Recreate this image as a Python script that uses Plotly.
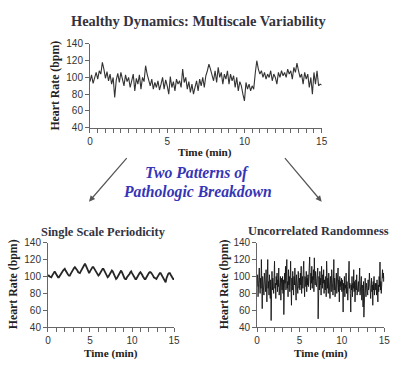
import plotly.graph_objects as go

W, H = 400, 380

# ---------------- data ----------------
healthy_time_step = 0.1
healthy_hr = [
    95, 103, 93, 101, 106, 98, 108, 104, 118, 110,
    99, 107, 96, 104, 92, 100, 76, 97, 105, 94,
    106, 98, 90, 103, 95, 100, 88, 96, 104, 84,
    99, 92, 103, 86, 100, 95, 114, 104, 96, 90,
    98, 86, 94, 88, 96, 85, 92, 100, 86, 97,
    90, 80, 101, 88, 95, 84, 98, 92, 96, 88,
    110, 94, 100, 86, 95, 82, 92, 80, 88, 96,
    84, 98, 90, 100, 88, 102, 108, 116, 110, 103,
    96, 108, 94, 112, 100, 106, 92, 104, 98, 108,
    92, 104, 96, 102, 88, 100, 84, 95, 90, 80,
    72, 94, 86, 92, 84, 90, 86, 105, 120, 110,
    104, 108, 100, 106, 98, 104, 100, 108, 96, 104,
    100, 92, 106, 100, 108, 102, 106, 100, 110, 104,
    108, 98, 112, 106, 117, 108, 100, 104, 92, 106,
    98, 104, 88, 100, 80, 106, 92, 108, 90, 92,
    91,
]

periodic_time_step = 0.1
periodic_hr = [
    100, 101, 100, 99, 99, 101, 103, 104, 106, 104,
    102, 100, 99, 99, 101, 103, 104, 106, 107, 108,
    109, 107, 105, 103, 102, 101, 101, 103, 105, 107,
    109, 110, 111, 110, 108, 107, 105, 104, 104, 106,
    108, 110, 112, 114, 115, 113, 111, 108, 106, 104,
    106, 108, 110, 111, 111, 109, 107, 105, 103, 102,
    101, 102, 104, 106, 108, 109, 109, 107, 105, 103,
    101, 99, 100, 102, 104, 106, 107, 106, 104, 101,
    99, 97, 98, 100, 102, 104, 106, 107, 105, 102,
    100, 98, 97, 97, 99, 100, 102, 103, 105, 106,
    104, 102, 100, 98, 97, 97, 99, 101, 103, 104,
    105, 104, 102, 100, 98, 97, 97, 99, 101, 103,
    104, 105, 105, 104, 103, 101, 99, 98, 97, 97,
    99, 101, 103, 104, 104, 102, 100, 98, 96, 95,
    93, 98, 101, 103, 104, 104, 102, 100, 98, 97,
    97,
]

random_time_step = 0.05
random_hr = [
    88, 102, 76, 95, 84, 110, 92, 80, 98, 86, 120, 90, 62, 100, 84, 96, 78, 104, 88, 94,
    82, 108, 92, 70, 98, 120, 86, 94, 78, 102, 90, 74, 96, 48, 92, 106, 84, 98, 88, 80,
    96, 118, 86, 92, 74, 100, 90, 104, 82, 96, 88, 110, 78, 94, 86, 100, 72, 98, 92, 84,
    100, 80, 96, 55, 88, 104, 92, 112, 84, 98, 120, 86, 94, 76, 108, 90, 100, 82, 96, 118,
    88, 66, 98, 84, 106, 92, 78, 100, 90, 110, 82, 94, 72, 102, 88, 96, 80, 106, 92, 86,
    98, 84, 104, 90, 112, 80, 96, 100, 86, 108, 118, 92, 76, 100, 94, 88, 106, 82, 98, 90,
    102, 88, 110, 94, 123, 96, 84, 104, 92, 112, 86, 100, 96, 108, 82, 122, 98, 90, 106, 94,
    88, 104, 96, 110, 50, 92, 100, 84, 106, 90, 98, 78, 112, 94, 86, 102, 92, 108, 80, 96,
    90, 84, 100, 76, 118, 92, 86, 98, 80, 104, 88, 94, 74, 100, 90, 82, 108, 86, 96, 78,
    92, 120, 84, 98, 76, 94, 88, 104, 80, 92, 86, 110, 82, 96, 70, 100, 88, 94, 84, 98,
    82, 96, 88, 58, 92, 84, 100, 76, 90, 86, 104, 80, 94, 88, 72, 98, 84, 118, 86, 92,
    80, 58, 90, 84, 100, 76, 92, 86, 108, 82, 94, 70, 88, 96, 84, 102, 78, 90, 86, 94,
    82, 96, 110, 78, 88, 84, 100, 72, 90, 86, 64, 94, 52, 88, 80, 98, 84, 76, 92, 86,
    90, 78, 96, 84, 88, 104, 80, 92, 74, 86, 98, 82, 90, 66, 94, 84, 100, 78, 88, 92,
    84, 92, 78, 96, 86, 70, 90, 82, 100, 88, 117, 84, 94, 80, 88, 92, 108, 98, 104, 94,
    100,
]

x_ticks = [0, 5, 10, 15]
y_ticks = [40, 60, 80, 100, 120, 140]

main_title = "Healthy Dynamics: Multiscale Variability"
left_title = "Single Scale Periodicity"
right_title = "Uncorrelated Randomness"
middle_text = ["Two Patterns of", "Pathologic Breakdown"]
x_label = "Time (min)"
y_label = "Heart Rate (bpm)"

# ---------------- figure ----------------
def times(step, n):
    return [round(i * step, 4) for i in range(n)]

fig = go.Figure()
fig.add_trace(go.Scatter(x=times(healthy_time_step, len(healthy_hr)), y=healthy_hr,
                         mode="lines", line=dict(color="#333333", width=1.1),
                         xaxis="x", yaxis="y", showlegend=False, hoverinfo="skip"))
fig.add_trace(go.Scatter(x=times(periodic_time_step, len(periodic_hr)), y=periodic_hr,
                         mode="lines", line=dict(color="#262626", width=1.8),
                         xaxis="x2", yaxis="y2", showlegend=False, hoverinfo="skip"))
fig.add_trace(go.Scatter(x=times(random_time_step, len(random_hr)), y=random_hr,
                         mode="lines", line=dict(color="#151515", width=0.9),
                         xaxis="x3", yaxis="y3", showlegend=False, hoverinfo="skip"))

def px_x(p):
    return p / W

def px_y(p):
    return 1 - p / H

tick_font = dict(family="Liberation Sans, Arial, sans-serif", size=10, color="#333333")
axis_common = dict(showgrid=False, zeroline=False, showline=True, linecolor="#666666",
                   linewidth=1, ticks="outside", tickcolor="#666666", tickwidth=1,
                   tickfont=tick_font, fixedrange=True)

def xaxis(domain, anchor, minor_dtick):
    return dict(domain=domain, anchor=anchor, range=[0, 15], tickmode="array",
                tickvals=x_ticks, ticklen=4,
                minor=dict(dtick=minor_dtick, tick0=0, ticks="outside", ticklen=4,
                           tickcolor="#666666", showgrid=False),
                **axis_common)

def yaxis(domain, anchor):
    return dict(domain=domain, anchor=anchor, range=[40, 140], tickmode="array",
                tickvals=y_ticks, ticklen=4, **axis_common)

layout = dict(
    width=W, height=H, margin=dict(l=0, r=0, t=0, b=0),
    paper_bgcolor="white", plot_bgcolor="white",
    xaxis=xaxis([px_x(89), px_x(326)], "y", 0.5),
    yaxis=yaxis([px_y(126), px_y(40)], "x"),
    xaxis2=xaxis([px_x(46), px_x(175)], "y2", 1),
    yaxis2=yaxis([px_y(331), px_y(244)], "x2"),
    xaxis3=xaxis([px_x(260), px_x(390)], "y3", 1),
    yaxis3=yaxis([px_y(331), px_y(244)], "x3"),
)
fig.update_layout(**layout)

serif = "Liberation Serif, Times New Roman, serif"
title_color = "#33333f"
label_color = "#222222"

def text(xp, yp, s, size, color, angle=0):
    fig.add_annotation(x=px_x(xp), y=px_y(yp), xref="paper", yref="paper",
                       text=s, showarrow=False, textangle=angle,
                       xanchor="center", yanchor="middle", borderpad=0,
                       font=dict(family=serif, size=size, color=color))

text(200, 16, "<b>" + main_title + "</b>", 14.4, title_color)
text(103, 233, "<b>" + left_title + "</b>", 12.4, title_color)
text(323, 232, "<b>" + right_title + "</b>", 12.4, title_color)

text(53, 83, "<b>" + y_label + "</b>", 11.8, label_color, -90)
text(11, 287, "<b>" + y_label + "</b>", 11.8, label_color, -90)
text(227, 287, "<b>" + y_label + "</b>", 11.8, label_color, -90)

text(207, 151, "<b>" + x_label + "</b>", 11.2, label_color)
text(110, 358, "<b>" + x_label + "</b>", 11.2, label_color)
text(325, 358, "<b>" + x_label + "</b>", 11.2, label_color)

text(198, 173, "<b><i>" + middle_text[0] + "</i></b>", 15.7, "#3535b5")
text(199, 192, "<b><i>" + middle_text[1] + "</i></b>", 15.7, "#3535b5")

for (x0, y0, x1, y1) in [(127, 157, 88, 202), (288, 157, 326, 202)]:
    fig.add_annotation(x=px_x(x1), y=px_y(y1), xref="paper", yref="paper",
                       ax=x0 - x1, ay=y0 - y1, axref="pixel", ayref="pixel",
                       text="", showarrow=True, arrowhead=2, arrowsize=1,
                       arrowwidth=1.2, arrowcolor="#555555")

fig.write_html("out.html", config=dict(displayModeBar=False),
               post_script="document.body.style.margin='0';document.body.style.overflow='hidden';")
